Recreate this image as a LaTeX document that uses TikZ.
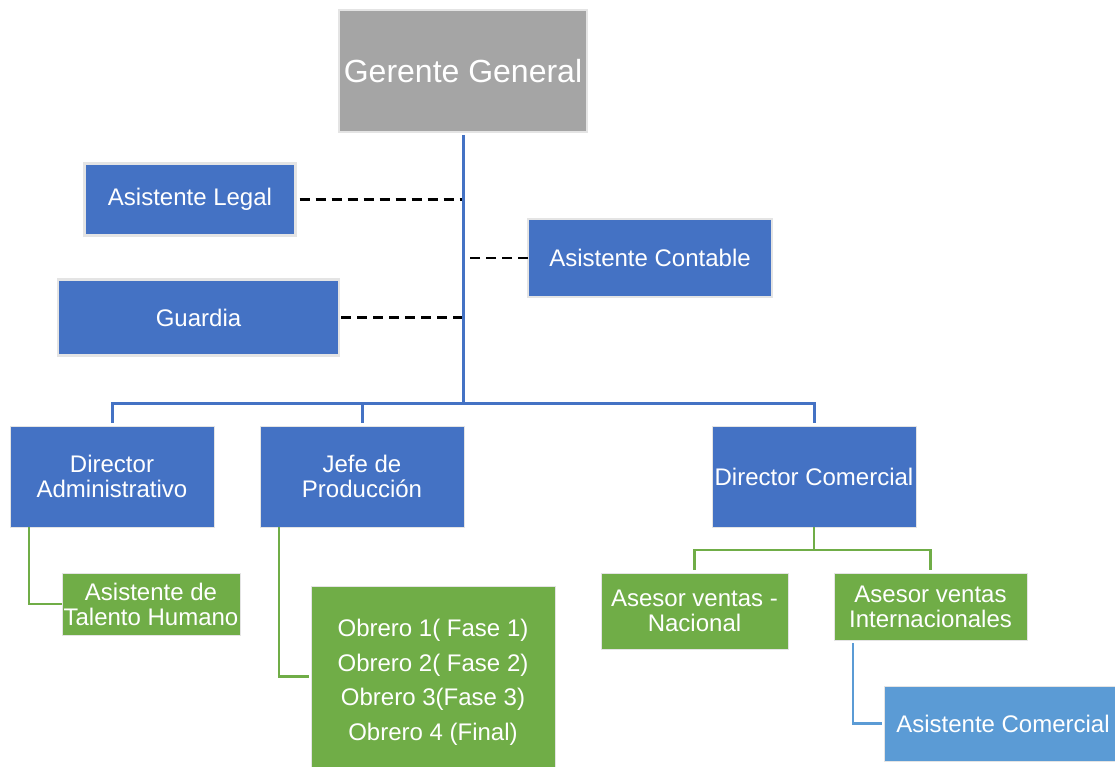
\documentclass[tikz,border=0pt]{standalone}
\usepackage{fontspec}
\setmainfont{Liberation Sans}
\definecolor{cblue}{HTML}{4472C4}
\definecolor{cgray}{HTML}{A5A5A5}
\definecolor{cgreen}{HTML}{70AD47}
\definecolor{clblue}{HTML}{5B9BD5}
\definecolor{cedge}{HTML}{E4E4E4}
\begin{document}
\begin{tikzpicture}[x=1pt,y=-1pt,
  box/.style={inner sep=0pt, outer sep=0pt, text=white, align=center,
    font=\fontsize{24}{25}\selectfont, draw=cedge, line width=1pt},
  topbox/.style={box, line width=2.5pt},
  bluebox/.style={box, fill=cblue},
  greenbox/.style={box, fill=cgreen},
  trunk/.style={draw=cblue, line width=3pt},
  gline/.style={draw=cgreen, line width=2.6pt},
  lbline/.style={draw=clblue, line width=2.6pt},
  dashline/.style={draw=black, line width=2.4pt, dash pattern=on 10pt off 6pt}]
\useasboundingbox (0,0) rectangle (1115,767);
% nodes
\node[box, fill=cgray, line width=1.5pt, minimum width=248pt, minimum height=122pt,
      font=\fontsize{32}{34}\selectfont] (g) at (463,71) {Gerente General};
\node[topbox, fill=cblue, minimum width=211pt, minimum height=72pt] (legal) at (190,199.5) {Asistente Legal};
\node[topbox, fill=cblue, minimum width=244pt, minimum height=78pt] (cont) at (650,258) {Asistente Contable};
\node[topbox, fill=cblue, minimum width=281pt, minimum height=76pt] (guard) at (198.5,317.5) {Guardia};
\node[bluebox, minimum width=204pt, minimum height=101pt] (da) at (112,476.5) {Director\\Administrativo};
\node[bluebox, minimum width=204pt, minimum height=101pt] (jp) at (362,476.5) {Jefe de\\Producción};
\node[bluebox, minimum width=204pt, minimum height=101pt] (dc) at (814,476.5) {Director Comercial};
\node[greenbox, minimum width=178pt, minimum height=62pt] (tha) at (151,604) {Asistente de\\Talento Humano};
\node[greenbox, minimum width=244pt, minimum height=181pt, font=\fontsize{24}{34.5}\selectfont] (ob) at (433,676.5)
  {\raisebox{-5pt}[\height][\depth]{\begin{tabular}{@{}c@{}}Obrero 1( Fase 1)\\Obrero 2( Fase 2)\\Obrero 3(Fase 3)\\Obrero 4 (Final)\end{tabular}}};
\node[greenbox, minimum width=187pt, minimum height=76pt] (an) at (694.5,611) {Asesor ventas -\\Nacional};
\node[greenbox, minimum width=193pt, minimum height=67pt] (ai) at (930.5,606.5) {Asesor ventas\\Internacionales};
\node[box, fill=clblue, minimum width=238pt, minimum height=75pt] (ac) at (1003,723.5) {Asistente Comercial};
% coordinates
\coordinate (bus) at (463,403);
\coordinate (split) at (814,550);
% dashed staff links
\draw[dashline, shorten <=4pt] (legal.east) -- (legal.east -| bus);
\draw[dashline, shorten >=1pt] (cont.west) -- (cont.west -| bus);
\draw[dashline, shorten <=2pt] (guard.east) -- (guard.east -| bus);
% blue hierarchy
\draw[trunk, shorten <=3pt] (g.south) -- (bus);
\draw[trunk, shorten >=3pt] (bus) -| (da.north);
\draw[trunk, shorten >=3pt] (bus) -| (jp.north);
\draw[trunk, shorten >=3pt] (bus) -| (dc.north);
% green links
\draw[gline] ([xshift=19pt]da.south west) |- (tha.west);
\draw[gline] ([xshift=19pt]jp.south west) |- ([xshift=-2pt]ob.west);
\draw[gline] (dc.south) -- (split);
\draw[gline, shorten >=3pt] (split) -| (an.north);
\draw[gline, shorten >=3pt] (split) -| (ai.north);
% light blue link
\draw[lbline, shorten <=3pt, shorten >=2pt] ([xshift=19pt]ai.south west) |- (ac.west);
\end{tikzpicture}
\end{document}
